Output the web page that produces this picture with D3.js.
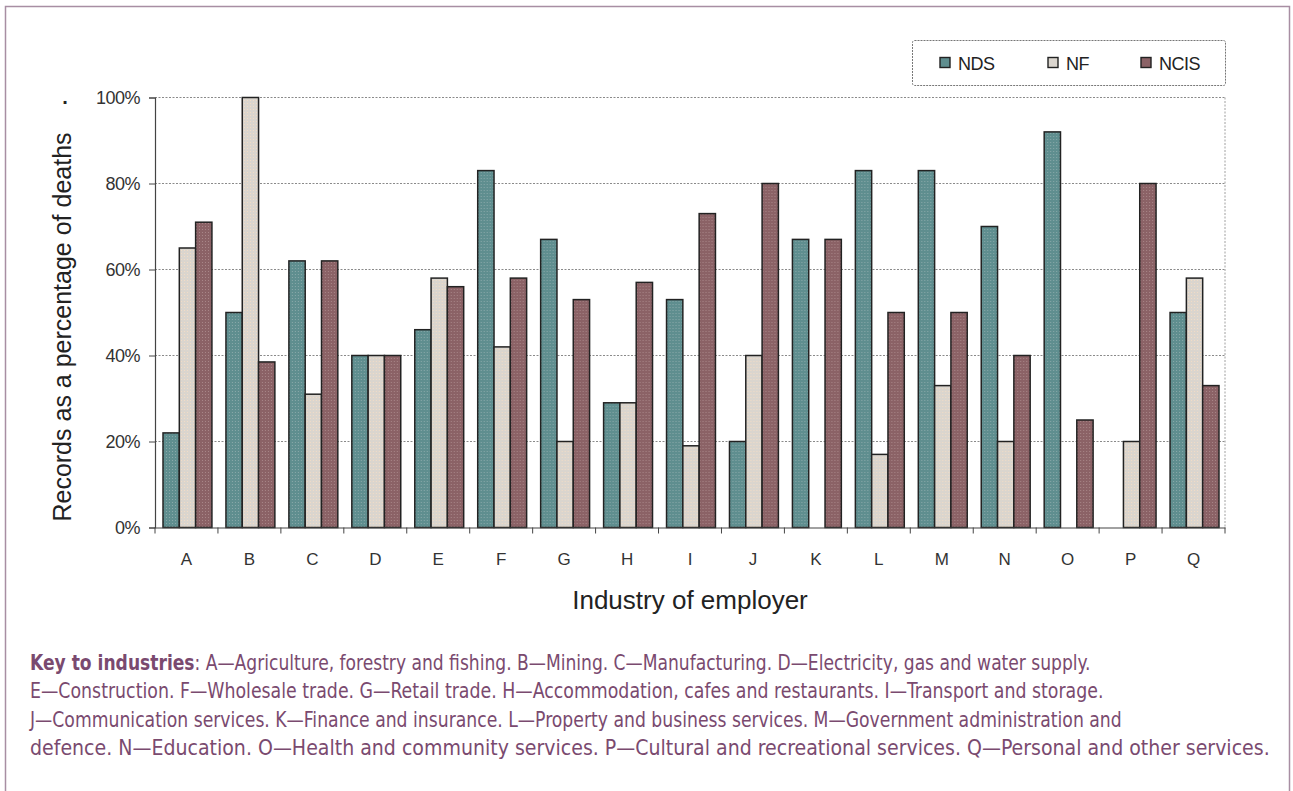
<!DOCTYPE html>
<html>
<head>
<meta charset="utf-8">
<script src="https://cdn.jsdelivr.net/npm/d3@7"></script>
<style>
  html, body { margin: 0; padding: 0; background: #fff; }
  svg { display: block; }
</style>
</head>
<body>
<svg id="chart" width="1293" height="791"></svg>
<script>
// ---- data ----
const categories = ["A","B","C","D","E","F","G","H","I","J","K","L","M","N","O","P","Q"];
const seriesNames = ["NDS","NF","NCIS"];
const ndsValues  = [22, 50, 62, 40, 46, 83, 67, 29, 53, 20, 67, 83, 83, 70, 92, 0, 50];
const nfValues   = [65, 100, 31, 40, 58, 42, 20, 29, 19, 40, 0, 17, 33, 20, 0, 20, 58];
const ncisValues = [71, 38.5, 62, 40, 56, 58, 53, 57, 73, 80, 67, 50, 50, 40, 25, 80, 33];
const yTicks = [0, 20, 40, 60, 80, 100];
const yTitle = "Records as a percentage of deaths";
const xTitle = "Industry of employer";
const keyLines = [
  [{b:true, t:"Key to industries"}, {b:false, t:": A\u2014Agriculture, forestry and fishing. B\u2014Mining. C\u2014Manufacturing. D\u2014Electricity, gas and water supply."}],
  [{b:false, t:"E\u2014Construction. F\u2014Wholesale trade. G\u2014Retail trade. H\u2014Accommodation, cafes and restaurants. I\u2014Transport and storage."}],
  [{b:false, t:"J\u2014Communication services. K\u2014Finance and insurance. L\u2014Property and business services. M\u2014Government administration and"}],
  [{b:false, t:"defence. N\u2014Education. O\u2014Health and community services. P\u2014Cultural and recreational services. Q\u2014Personal and other services."}]
];

const seriesValues = [ndsValues, nfValues, ncisValues];
const baseColors = {NDS: "#5f8e8f", NF: "#dad5ce", NCIS: "#8b6266"};
const dotColors  = {NDS: "#8aa9aa", NF: "#f2dcc6", NCIS: "#a88688"};

const svg = d3.select("#chart");

// outer frame (open at bottom)
svg.append("path")
  .attr("d", "M5.5,791 L5.5,6.5 L1289.5,6.5 L1289.5,791")
  .attr("fill", "none").attr("stroke", "#a88ea3").attr("stroke-width", 1.5);

// patterns
const defs = svg.append("defs");
seriesNames.forEach(s => {
  const p = defs.append("pattern").attr("id", "pat-" + s)
    .attr("patternUnits", "userSpaceOnUse").attr("width", 3).attr("height", 3);
  p.append("rect").attr("width", 3).attr("height", 3).attr("fill", baseColors[s]);
  p.append("rect").attr("x", 1).attr("y", 1).attr("width", 1).attr("height", 1).attr("fill", dotColors[s]);
});

const plotLeft = 155, plotRight = 1225, plotTop = 97.5, plotBottom = 527.5;
const fontMain = "Liberation Sans, Arial, sans-serif";

const x = d3.scaleBand().domain(categories).range([plotLeft, plotRight]).paddingInner(0).paddingOuter(0);
const x1 = d3.scaleBand().domain(seriesNames).range([0, x.bandwidth()]).paddingInner(0).paddingOuter(0.43);
const y = d3.scaleLinear().domain([0, 100]).range([plotBottom, plotTop]);

const g = svg.append("g");

// gridlines
g.selectAll(".grid").data(yTicks.filter(d => d > 0)).join("line")
  .attr("x1", plotLeft).attr("x2", plotRight)
  .attr("y1", d => y(d)).attr("y2", d => y(d))
  .attr("stroke", "#8a8a8a").attr("stroke-width", 1).attr("stroke-dasharray", "2,1.5");

// right plot border (dotted)
g.append("line").attr("x1", plotRight).attr("x2", plotRight).attr("y1", plotTop).attr("y2", plotBottom)
  .attr("stroke", "#a0a0a0").attr("stroke-width", 1).attr("stroke-dasharray", "2,1.5");

// bars
const groups = g.selectAll(".grp").data(categories).join("g")
  .attr("transform", d => `translate(${x(d) + 1},0)`);
groups.selectAll("rect").data((c, i) => seriesNames.map((s, k) => ({s, v: seriesValues[k][i]}))).join("rect")
  .attr("x", d => x1(d.s))
  .attr("y", d => y(d.v))
  .attr("width", x1.bandwidth())
  .attr("height", d => y(0) - y(d.v))
  .attr("fill", d => `url(#pat-${d.s})`)
  .attr("stroke", "#222")
  .attr("stroke-width", d => d.v > 0 ? 1.5 : 0);

// y axis
const yAxis = d3.axisLeft(y).tickValues(yTicks).tickFormat(d => d + "%").tickSize(6).tickPadding(9);
const ya = svg.append("g").attr("transform", `translate(${plotLeft},0)`).call(yAxis);
ya.select(".domain").attr("stroke", "#444").attr("stroke-width", 1.2);
ya.selectAll(".tick line").attr("stroke", "#444");
ya.selectAll(".tick text").attr("font-family", fontMain)
  .attr("font-size", 18).attr("letter-spacing", -0.5).attr("fill", "#333");

// x axis
const xAxis = d3.axisBottom(x).tickSize(0).tickPadding(25);
const xa = svg.append("g").attr("transform", `translate(0,${plotBottom})`).call(xAxis);
xa.select(".domain").attr("stroke", "#444").attr("stroke-width", 1.2);
xa.selectAll(".tick text").attr("font-family", fontMain)
  .attr("font-size", 17).attr("fill", "#333");
// category separator ticks
xa.selectAll(".sep").data(categories.concat(["_end"])).join("line")
  .attr("x1", (d, i) => plotLeft + i * x.bandwidth()).attr("x2", (d, i) => plotLeft + i * x.bandwidth())
  .attr("y1", 0).attr("y2", 6).attr("stroke", "#444");

// axis titles
svg.append("text")
  .attr("transform", `translate(71,327) rotate(-90)`)
  .attr("text-anchor", "middle")
  .attr("font-family", fontMain)
  .attr("font-size", 25).attr("fill", "#222")
  .text(yTitle);
svg.append("text").attr("x", 65).attr("y", 104).attr("text-anchor", "middle")
  .attr("font-family", fontMain).attr("font-size", 20).attr("font-weight", "bold").attr("fill", "#222").text(".");

svg.append("text")
  .attr("x", 690).attr("y", 609)
  .attr("text-anchor", "middle")
  .attr("font-family", fontMain)
  .attr("font-size", 26).attr("fill", "#222")
  .text(xTitle);

// legend
const lg = svg.append("g");
lg.append("rect").attr("x", 912.5).attr("y", 40.5).attr("width", 313).attr("height", 45).attr("rx", 2)
  .attr("fill", "#fff").attr("stroke", "#777").attr("stroke-dasharray", "2,1");
const legX = [940, 1048, 1141];
seriesNames.forEach((s, i) => {
  lg.append("rect").attr("x", legX[i]).attr("y", 57.5).attr("width", 10).attr("height", 10)
    .attr("fill", baseColors[s]).attr("stroke", "#222").attr("stroke-width", 1.4);
  lg.append("text").attr("x", legX[i] + 18).attr("y", 69.5)
    .attr("font-family", fontMain)
    .attr("font-size", 18).attr("letter-spacing", -0.5).attr("fill", "#222").text(s);
});

// key text: rendered at natural width, then horizontally scaled to the reference line width
const keyY = [670, 698, 727, 755];
const keyEnds = [1091, 1104, 1122, 1270];
const keyX = 30;
keyLines.forEach((parts, i) => {
  const t = svg.append("text").attr("x", 0).attr("y", 0)
    .attr("font-family", "Liberation Sans Narrow, DejaVu Sans Condensed, sans-serif")
    .attr("font-size", 22).attr("fill", "#7a4a6f");
  parts.forEach(p => t.append("tspan").attr("font-weight", p.b ? "bold" : "normal").text(p.t));
  const natural = t.node().getComputedTextLength();
  const sx = (keyEnds[i] - keyX) / natural;
  t.attr("transform", `translate(${keyX},${keyY[i]}) scale(${sx},1)`);
});
</script>
</body>
</html>
